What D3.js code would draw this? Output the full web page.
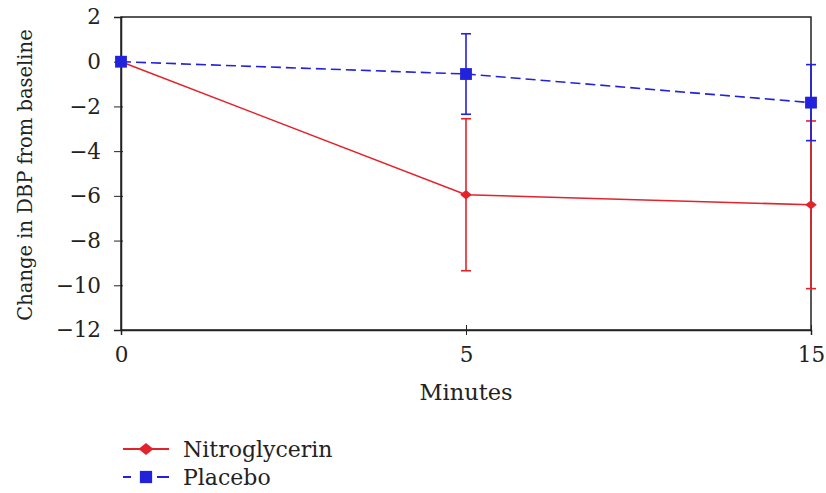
<!DOCTYPE html>
<html>
<head>
<meta charset="utf-8">
<script src="https://cdn.jsdelivr.net/npm/d3@7"></script>
<style>
  body { margin: 0; background: #fff; }
  svg text { font-family: "DejaVu Serif", serif; fill: #222; }
</style>
</head>
<body>
<script>
// data
var minutes = ["0", "5", "15"];
var nitroMean = [0, -5.95, -6.4];
var nitroErr = [0, 3.4, 3.75];
var placeboMean = [0, -0.55, -1.83];
var placeboErr = [0, 1.8, 1.7];
var yTicks = [2, 0, -2, -4, -6, -8, -10, -12];

var margin = {top: 17, right: 15, bottom: 163, left: 121},
	width = 826 - margin.left - margin.right,
	height = 493 - margin.top - margin.bottom;

var x = d3.scalePoint().domain(minutes).range([0, width]);
var y = d3.scaleLinear().domain([-12, 2]).range([height, 0]);

// flat diamond like the original marker
var wideDiamond = {
	draw: function(ctx, size) {
		var w = Math.sqrt(size) * 0.75, h = Math.sqrt(size) * 0.6;
		ctx.moveTo(-w, 0); ctx.lineTo(0, -h); ctx.lineTo(w, 0); ctx.lineTo(0, h); ctx.closePath();
	}
};

var svg = d3.select("body").append("svg")
	.attr("width", 826)
	.attr("height", 493)
	.append("g")
	.attr("transform", "translate(" + margin.left + "," + margin.top + ")");

// frame
svg.append("rect")
	.attr("width", width).attr("height", height)
	.attr("fill", "none").attr("stroke", "#222").attr("stroke-width", 1.5);

// y axis
var yAxis = svg.append("g")
	.call(d3.axisLeft(y).tickValues(yTicks).tickSize(7).tickPadding(13));
yAxis.attr("font-size", null).attr("font-family", null);
yAxis.select(".domain").attr("stroke", "#222").attr("stroke-width", 1.5);
yAxis.selectAll(".tick line").attr("x1", 2).attr("stroke", "#222");
yAxis.selectAll("text").style("font-size", "21.5px");

// x axis
var xAxis = svg.append("g")
	.attr("transform", "translate(0," + height + ")")
	.call(d3.axisBottom(x).tickSize(5).tickPadding(12));
xAxis.attr("font-size", null).attr("font-family", null);
xAxis.select(".domain").attr("stroke", "#222").attr("stroke-width", 1.5);
xAxis.selectAll(".tick line").attr("y1", -5).attr("stroke", "#222");
xAxis.selectAll("text").style("font-size", "21.5px");

// axis titles
svg.append("text")
	.attr("transform", "rotate(-90)")
	.attr("x", -158)
	.attr("y", -89)
	.attr("text-anchor", "middle")
	.style("font-size", "19.5px")
	.text("Change in DBP from baseline");

svg.append("text")
	.attr("x", x("5"))
	.attr("y", height + 70)
	.attr("text-anchor", "middle")
	.style("font-size", "22.5px")
	.text("Minutes");

function drawSeries(means, errs, color, dash, shape, size) {
	var pts = minutes.map(function(m, i) { return {m: m, v: means[i], e: errs[i]}; });
	svg.append("path")
		.datum(pts)
		.attr("fill", "none")
		.attr("stroke", color)
		.attr("stroke-width", 1.6)
		.attr("stroke-dasharray", dash)
		.attr("d", d3.line().x(function(d) { return x(d.m); }).y(function(d) { return y(d.v); }));

	var eb = svg.append("g").selectAll("g").data(pts.filter(function(d) { return d.e > 0; }))
		.enter().append("g").attr("stroke", color).attr("stroke-width", 1.6);
	eb.append("line")
		.attr("x1", function(d) { return x(d.m); }).attr("x2", function(d) { return x(d.m); })
		.attr("y1", function(d) { return y(d.v + d.e); }).attr("y2", function(d) { return y(d.v - d.e); });
	eb.append("line")
		.attr("x1", function(d) { return x(d.m) - 5; }).attr("x2", function(d) { return x(d.m) + 5; })
		.attr("y1", function(d) { return y(d.v + d.e); }).attr("y2", function(d) { return y(d.v + d.e); });
	eb.append("line")
		.attr("x1", function(d) { return x(d.m) - 5; }).attr("x2", function(d) { return x(d.m) + 5; })
		.attr("y1", function(d) { return y(d.v - d.e); }).attr("y2", function(d) { return y(d.v - d.e); });

	svg.append("g").selectAll("path").data(pts).enter().append("path")
		.attr("transform", function(d) { return "translate(" + x(d.m) + "," + y(d.v) + ")"; })
		.attr("d", d3.symbol().type(shape).size(size))
		.attr("fill", color);
}

drawSeries(nitroMean, nitroErr, "#e3232b", null, wideDiamond, 60);
drawSeries(placeboMean, placeboErr, "#2222dd", "10,5", d3.symbolSquare, 140);

// legend
var legendItems = [
	{name: "Nitroglycerin", color: "#e3232b", dash: null, shape: wideDiamond, size: 100},
	{name: "Placebo", color: "#2222dd", dash: "8,26,12", shape: d3.symbolSquare, size: 150}
];
var legend = d3.select("svg").append("g").attr("transform", "translate(123,449)");
var li = legend.selectAll("g").data(legendItems).enter().append("g")
	.attr("transform", function(d, i) { return "translate(0," + i * 28 + ")"; });
li.append("line")
	.attr("x1", 0).attr("x2", 46)
	.attr("stroke", function(d) { return d.color; })
	.attr("stroke-width", 1.8)
	.attr("stroke-dasharray", function(d) { return d.dash; });
li.append("path")
	.attr("transform", "translate(23,0)")
	.attr("d", function(d) { return d3.symbol().type(d.shape).size(d.size)(); })
	.attr("fill", function(d) { return d.color; });
li.append("text")
	.attr("x", 60).attr("dy", "0.35em")
	.style("font-size", "22px")
	.text(function(d) { return d.name; });
</script>
</body>
</html>
